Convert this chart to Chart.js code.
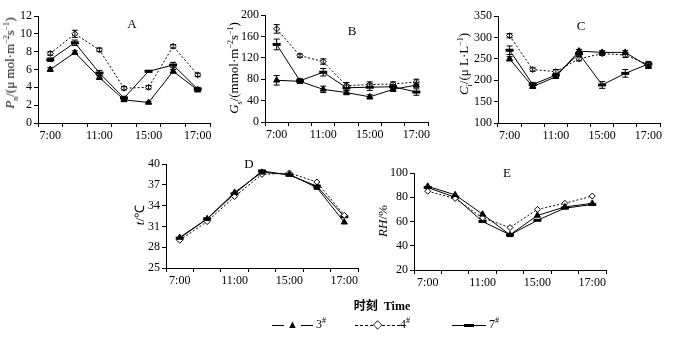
<!DOCTYPE html>
<html>
<head>
<meta charset="utf-8">
<script src="https://cdn.jsdelivr.net/npm/chart.js@4"></script>
<style>
  body { margin: 0; background: #fff; }
  #wrap { position: relative; width: 677px; height: 338px; overflow: hidden; font-family: "Liberation Serif", serif; color: #000; }
  canvas { position: absolute; }
  .txt { position: absolute; white-space: nowrap; font-size: 13px; }
  .rot { transform: translate(-50%, -50%) rotate(-90deg); }
  .ctr { transform: translate(-50%, -50%); }
  sub, sup { font-size: 8px; }
  .seg { display: inline-block; vertical-align: middle; width: 12px; border-top: 1px solid #000; }
  .dash { border-top: 1px dashed #000; }
</style>
</head>
<body>
<div id="wrap">
  <canvas id="cA" style="left:0px;top:0px" width="220" height="150"></canvas>
  <canvas id="cB" style="left:220px;top:0px" width="218" height="149"></canvas>
  <canvas id="cC" style="left:450px;top:0px" width="220" height="150"></canvas>
  <canvas id="cD" style="left:130px;top:150px" width="238" height="145"></canvas>
  <canvas id="cE" style="left:375px;top:150px" width="241" height="147"></canvas>

  <div class="txt rot" style="left:11px;top:63px"><i>P</i><sub>n</sub>/(μ mol·m<sup>−2</sup>s<sup>−1</sup>)</div>
  <div class="txt rot" style="left:235px;top:68px"><i>G</i><sub>s</sub>/(mmol·m<sup>−2</sup>s<sup>−1</sup>)</div>
  <div class="txt rot" style="left:465px;top:64px"><i>C</i><sub>i</sub>/(μ L·L<sup>−1</sup>)</div>
  <div class="txt rot" style="left:139px;top:215px"><i>t</i>/℃</div>
  <div class="txt rot" style="left:383px;top:221px"><i>RH</i>/%</div>

  <div class="txt ctr" style="left:132px;top:24px">A</div>
  <div class="txt ctr" style="left:352px;top:31px">B</div>
  <div class="txt ctr" style="left:581px;top:26px">C</div>
  <div class="txt ctr" style="left:249px;top:164px">D</div>
  <div class="txt ctr" style="left:507px;top:173px">E</div>

  <div class="txt ctr" style="left:382px;top:305px;font-size:12px;font-weight:bold"><span style="font-family:'Noto Sans CJK SC'">时刻</span>&nbsp; Time</div>
  <div class="txt" style="left:272px;top:316px;font-size:12px">
    <span class="seg"></span> <span style="font-size:11px">▲</span> <span class="seg"></span> 3<sup>#</sup>
  </div>
  <div class="txt" style="left:355px;top:316px;font-size:12px">
    <span class="seg dash" style="width:18px"></span><span style="font-size:12px">◇</span><span class="seg dash" style="width:18px"></span>4<sup>#</sup>
  </div>
  <div class="txt" style="left:452px;top:316px;font-size:12px">
    <span class="seg"></span><span style="display:inline-block;vertical-align:middle;width:10px;height:3px;background:#000"></span><span class="seg"></span> 7<sup>#</sup>
  </div>
</div>
<script>
const times = ['7:00', '9:00', '11:00', '13:00', '15:00', '16:00', '17:00']

// A: Pn
const pn3 = [6.0, 7.9, 5.1, 2.6, 2.3, 5.8, 3.7]
const pn4 = [7.8, 10.0, 8.2, 3.9, 4.0, 8.6, 5.4]
const pn7 = [7.1, 9.0, 5.6, 2.8, 5.8, 6.5, 3.8]
const pn3Err = [0.2, 0.2, 0.2, 0.2, 0.1, 0.2, 0.2]
const pn4Err = [0.2, 0.4, 0.2, 0.2, 0.2, 0.2, 0.2]
const pn7Err = [0.2, 0.3, 0.3, 0.2, 0.1, 0.3, 0.2]

// B: Gs
const gs3 = [78, 76, 61, 55, 47, 61, 69]
const gs4 = [174, 124, 113, 68, 70, 71, 75]
const gs7 = [145, 77, 93, 64, 65, 66, 56]
const gs3Err = [9, 4, 6, 4, 4, 4, 4]
const gs4Err = [8, 3, 5, 6, 5, 4, 5]
const gs7Err = [10, 4, 7, 5, 6, 4, 6]

// C: Ci
const ci3 = [250, 185, 208, 268, 265, 265, 232]
const ci4 = [304, 225, 220, 250, 262, 259, 236]
const ci7 = [270, 190, 212, 262, 189, 216, 238]
const ci3Err = [5, 4, 3, 4, 4, 4, 4]
const ci4Err = [5, 4, 5, 5, 4, 6, 5]
const ci7Err = [10, 5, 4, 5, 8, 9, 6]

// D: t
const t3 = [29.4, 32.1, 35.9, 38.8, 38.5, 36.6, 31.6]
const t4 = [29.0, 31.7, 35.3, 38.5, 38.7, 37.4, 32.6]
const t7 = [29.3, 32.1, 35.7, 39.0, 38.4, 36.8, 32.4]

// E: RH
const rh3 = [89, 82, 66, 49, 65, 72, 75]
const rh4 = [85, 79, 63, 55, 70, 75, 81]
const rh7 = [88, 80, 60, 49, 61, 71, 74]

const font = { family: 'Liberation Serif', size: 12 }

// small error bars from dataset.errors
const errorBars = {
    id: 'errorBars',
    afterDatasetsDraw(chart) {
        const ctx = chart.ctx
        const y = chart.scales.y
        chart.data.datasets.forEach((ds, i) => {
            if (!ds.errors) return
            const meta = chart.getDatasetMeta(i)
            ctx.save()
            ctx.strokeStyle = '#000'
            ctx.lineWidth = 1
            meta.data.forEach((pt, j) => {
                const e = ds.errors[j]
                if (!e) return
                const top = y.getPixelForValue(ds.data[j] + e)
                const bot = y.getPixelForValue(ds.data[j] - e)
                ctx.beginPath()
                ctx.moveTo(pt.x, top); ctx.lineTo(pt.x, bot)
                ctx.moveTo(pt.x - 3, top); ctx.lineTo(pt.x + 3, top)
                ctx.moveTo(pt.x - 3, bot); ctx.lineTo(pt.x + 3, bot)
                ctx.stroke()
            })
            ctx.restore()
        })
    }
}

function sets(s3, s4, s7, e3, e4, e7) {
    return [
        {
            label: '3#', data: s3, errors: e3,
            borderColor: '#000', borderWidth: 1,
            pointStyle: 'triangle', pointRadius: 3.5,
            pointBackgroundColor: '#000', pointBorderColor: '#000'
        },
        {
            label: '4#', data: s4, errors: e4,
            borderColor: '#000', borderWidth: 1, borderDash: [2, 2],
            pointStyle: 'rectRot', pointRadius: 3,
            pointBackgroundColor: '#fff', pointBorderColor: '#000', pointBorderWidth: 1
        },
        {
            label: '7#', data: s7, errors: e7,
            borderColor: '#000', borderWidth: 1,
            pointStyle: 'line', pointRadius: 4,
            pointBorderColor: '#000', pointBorderWidth: 3
        }
    ]
}

function panel(id, datasets, ymin, ymax, step, labelEvery, yw, pad) {
    new Chart(document.getElementById(id), {
        type: 'line',
        data: { labels: times, datasets: datasets },
        options: {
            responsive: false,
            animation: false,
            layout: { padding: { top: pad.top, right: pad.right, left: 0, bottom: 0 } },
            plugins: { legend: { display: false }, tooltip: { enabled: false } },
            scales: {
                x: {
                    offset: true,
                    grid: { offset: true, drawOnChartArea: false, drawTicks: true, tickLength: 4, color: '#000' },
                    border: { color: '#000', width: 1 },
                    ticks: {
                        autoSkip: false, maxRotation: 0, color: '#000', font: font, padding: 2,
                        callback: (v, i) => i % 2 === 0 ? times[i] : ''
                    },
                    afterFit: (s) => { s.height = 27 }
                },
                y: {
                    min: ymin, max: ymax,
                    grid: { drawOnChartArea: false, drawTicks: true, tickLength: 4, color: '#000' },
                    border: { color: '#000', width: 1 },
                    ticks: {
                        stepSize: step, color: '#000', font: font, padding: 2,
                        callback: (v) => (Math.round((v - ymin) / step) % labelEvery === 0) ? v : ''
                    },
                    afterFit: (s) => { s.width = yw }
                }
            }
        },
        plugins: [errorBars]
    })
}

panel('cA', sets(pn3, pn4, pn7, pn3Err, pn4Err, pn7Err), 0, 12, 2, 1, 38, { top: 16, right: 10 })
panel('cB', sets(gs3, gs4, gs7, gs3Err, gs4Err, gs7Err), 0, 200, 20, 2, 45, { top: 15, right: 10 })
panel('cC', sets(ci3, ci4, ci7, ci3Err, ci4Err, ci7Err), 100, 350, 50, 1, 48, { top: 16, right: 10 })
panel('cD', sets(t3, t4, t7), 25, 40, 3, 1, 36, { top: 14, right: 10 })
panel('cE', sets(rh3, rh4, rh7), 20, 100, 20, 1, 39, { top: 23, right: 10 })
</script>
</body>
</html>
